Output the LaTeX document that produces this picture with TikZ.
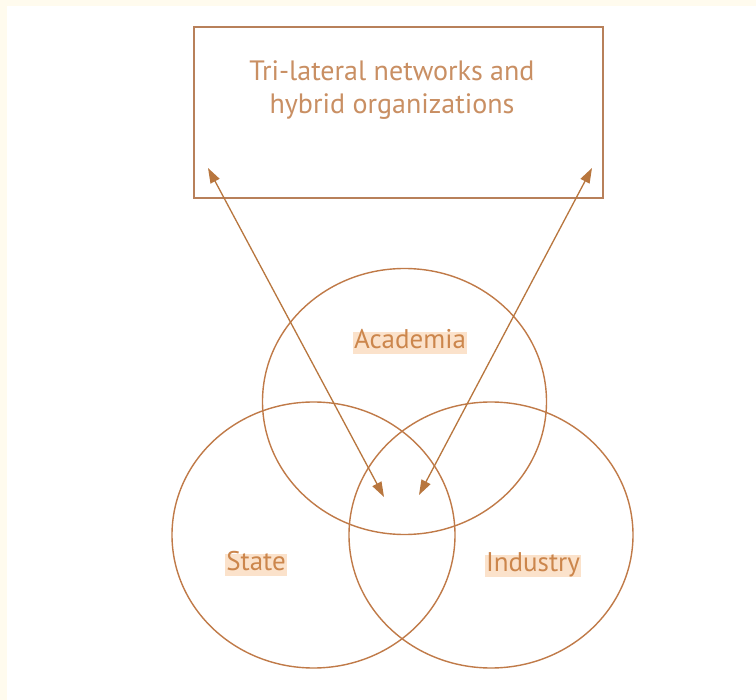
\documentclass[tikz,border=0pt]{standalone}
\usepackage{fontspec}
\setmainfont{PT Sans}
\usetikzlibrary{arrows.meta}
\definecolor{cream}{HTML}{FFFBEE}
\definecolor{boxline}{HTML}{B8805A}
\definecolor{ring}{HTML}{C07A48}
\definecolor{arrowc}{HTML}{B8763E}
\definecolor{boxtext}{HTML}{C98F63}
\definecolor{labtext}{HTML}{CC864C}
\definecolor{labbg}{HTML}{FBE2CB}
\begin{document}
\begin{tikzpicture}[x=1pt,y=-1pt,
  ring/.style={draw=ring,line width=1.4pt},
  hub/.style={draw=boxline,line width=1.5pt,fill=white},
  lab/.style={fill=labbg,text=labtext,font=\fontsize{27}{30}\selectfont,inner xsep=1pt,inner ysep=0pt,text height=17pt,text depth=5pt},
  link/.style={draw=arrowc,line width=1.3pt,{Triangle[length=15pt,width=10pt]}-{Triangle[length=15pt,width=10pt]}}]
\fill[cream] (0,0) rectangle (756,700);
\fill[white] (7,6) rectangle (756,700);
\useasboundingbox (0,0) rectangle (756,700);
\draw[hub] (194,27) rectangle (603,198);
\node[text=boxtext,font=\fontsize{28}{33}\selectfont,align=center] (hubtext) at (392,90) {Tri-lateral networks and\\hybrid organizations};
\draw[ring] (404.5,401.5) ellipse [x radius=142, y radius=133];
\draw[ring] (313.5,535) ellipse [x radius=141.5, y radius=133];
\draw[ring] (491,535) ellipse [x radius=142, y radius=133];
\node[lab] (acad) at (410,343) {Academia};
\node[lab] (state) at (256,565) {State};
\node[lab] (ind) at (533,566) {Industry};
\coordinate (lt) at (208,168);
\coordinate (lb) at (384,497);
\coordinate (rt) at (592,168);
\coordinate (rb) at (419,495);
\draw[link] (lt) -- (lb);
\draw[link] (rt) -- (rb);
\end{tikzpicture}
\end{document}
